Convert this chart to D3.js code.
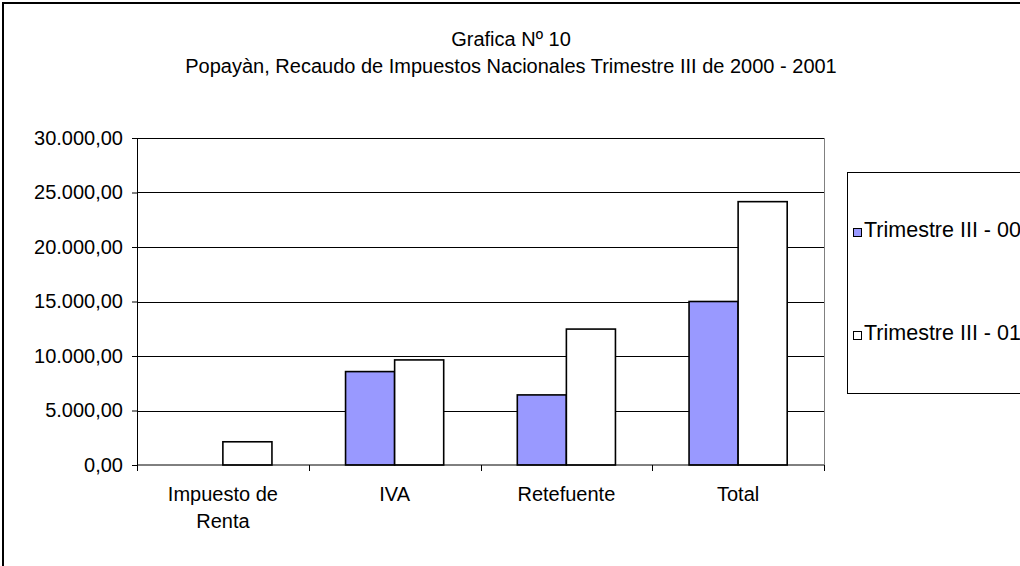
<!DOCTYPE html>
<html>
<head>
<meta charset="utf-8">
<script src="https://cdn.jsdelivr.net/npm/d3@7"></script>
<style>
  body { margin: 0; background: #fff; }
  svg { display: block; font-family: 'Liberation Sans', Arial, sans-serif; }
</style>
</head>
<body>
<div id="chart"></div>
<script>
// Data
const categories = [['Impuesto de', 'Renta'], ['IVA'], ['Retefuente'], ['Total']];
const seriesNames = ['Trimestre III - 00', 'Trimestre III - 01'];
const serie00 = [0, 8570, 6430, 15000];
const serie01 = [2130, 9640, 12470, 24160];
const yTicks = [0, 5000, 10000, 15000, 20000, 25000, 30000];
const titleLines = ['Grafica Nº 10', 'Popayàn, Recaudo de Impuestos Nacionales Trimestre III de 2000 - 2001'];

const colors = ['#9999ff', '#ffffff'];

const W = 1020, H = 566;
const margin = { top: 138, right: 196, bottom: 101, left: 137 };
const width = W - margin.left - margin.right;
const height = H - margin.top - margin.bottom;
const fontSize = 20;

const svg = d3.select('#chart').append('svg')
  .attr('width', W)
  .attr('height', H);

// outer chart frame (runs off right and bottom)
svg.append('rect')
  .attr('x', 3).attr('y', 3)
  .attr('width', W + 20).attr('height', H + 20)
  .attr('fill', 'none')
  .attr('stroke', '#000')
  .attr('stroke-width', 2);

// title
svg.append('g').selectAll('text')
  .data(titleLines)
  .enter()
  .append('text')
  .attr('x', 511)
  .attr('y', (d, i) => 46 + i * 27)
  .attr('text-anchor', 'middle')
  .attr('font-size', fontSize)
  .text((d) => d);

const g = svg.append('g').attr('transform', `translate(${margin.left},${margin.top})`);

// Scales
const keys = categories.map((d) => d.join(' '));
const xscale = d3.scaleBand().domain(keys).range([0, width]).paddingInner(0).paddingOuter(0);
const inner = d3.scaleBand().domain([0, 1]).range([0, xscale.bandwidth()]).paddingInner(0).paddingOuter(0.75);
const yscale = d3.scaleLinear().domain([0, 30000]).range([height, 0]);

// gridlines
g.append('g').selectAll('line')
  .data(yTicks.filter((d) => d > 0))
  .enter()
  .append('line')
  .attr('x1', 0).attr('x2', width)
  .attr('y1', (d) => Math.round(yscale(d)) + 0.5)
  .attr('y2', (d) => Math.round(yscale(d)) + 0.5)
  .attr('stroke', '#000');

// plot area right border
g.append('line')
  .attr('x1', width + 0.5).attr('x2', width + 0.5)
  .attr('y1', 0).attr('y2', height)
  .attr('stroke', '#808080');

// Bars
const rows = keys.map((k, i) => ({ key: k, values: [serie00[i], serie01[i]] }));
g.append('g').selectAll('g')
  .data(rows)
  .enter()
  .append('g')
  .attr('transform', (d) => `translate(${xscale(d.key)},0)`)
  .selectAll('rect')
  .data((d) => d.values.map((v, j) => ({ v, j })).filter((e) => e.v > 0))
  .enter()
  .append('rect')
  .attr('x', (d) => inner(d.j))
  .attr('y', (d) => yscale(d.v))
  .attr('width', inner.bandwidth())
  .attr('height', (d) => height - yscale(d.v))
  .attr('fill', (d) => colors[d.j])
  .attr('stroke', '#000')
  .attr('stroke-width', 1.6);

// Axes
const fmt = (v) => {
  const s = d3.format(',.2f')(v);
  return s.replace(/,/g, '#').replace('.', ',').replace(/#/g, '.');
};

const leftAxis = d3.axisLeft(yscale).tickValues(yTicks).tickSize(5).tickSizeOuter(0).tickFormat(fmt);
const yAxis = g.append('g').call(leftAxis);
yAxis.selectAll('text').attr('font-size', fontSize).attr('fill', '#000').attr('dx', -6)
  .attr('font-family', "'Liberation Sans', Arial, sans-serif");
yAxis.selectAll('line, path').attr('stroke', '#000');

const bottomAxis = g.append('g').attr('transform', `translate(0,${height})`);
bottomAxis.append('line').attr('x1', 0).attr('x2', width).attr('stroke', '#000');
bottomAxis.selectAll('line.tk')
  .data(d3.range(keys.length + 1))
  .enter()
  .append('line')
  .attr('class', 'tk')
  .attr('x1', (d) => Math.round(d * xscale.step()) + 0.5)
  .attr('x2', (d) => Math.round(d * xscale.step()) + 0.5)
  .attr('y1', 0).attr('y2', 6)
  .attr('stroke', '#000');

bottomAxis.selectAll('text')
  .data(categories)
  .enter()
  .append('text')
  .attr('x', (d, i) => xscale(keys[i]) + xscale.bandwidth() / 2)
  .attr('y', 36)
  .attr('text-anchor', 'middle')
  .attr('font-size', fontSize)
  .selectAll('tspan')
  .data((d) => d)
  .enter()
  .append('tspan')
  .attr('x', function () { return d3.select(this.parentNode).attr('x'); })
  .attr('dy', (d, i) => (i === 0 ? 0 : 27))
  .text((d) => d);

// Legend
const legend = svg.append('g');
legend.append('rect')
  .attr('x', 847.5).attr('y', 172.5)
  .attr('width', 200).attr('height', 221)
  .attr('fill', '#fff')
  .attr('stroke', '#000');

const items = legend.selectAll('g.item')
  .data(seriesNames)
  .enter()
  .append('g')
  .attr('class', 'item')
  .attr('transform', (d, i) => `translate(853,${232 + i * 103})`);

items.append('rect')
  .attr('x', 0.5).attr('y', -3.5)
  .attr('width', 8).attr('height', 8)
  .attr('fill', (d, i) => colors[i])
  .attr('stroke', '#000');

items.append('text')
  .attr('x', 11)
  .attr('y', 5)
  .attr('font-size', 21.5)
  .text((d) => d);
</script>
</body>
</html>
